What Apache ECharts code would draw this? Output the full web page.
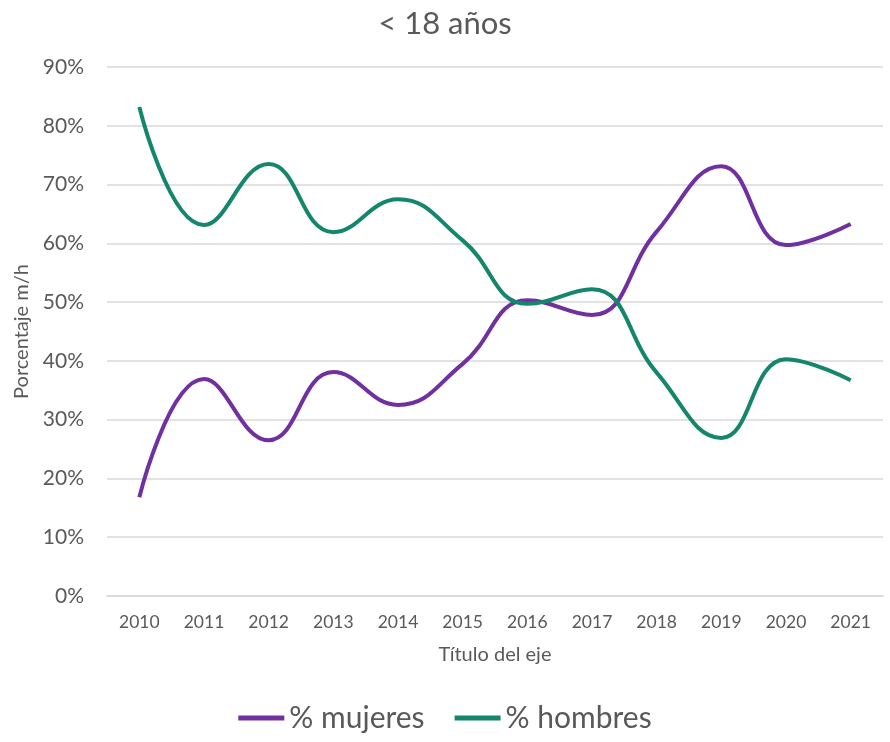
<!DOCTYPE html>
<html>
<head>
<meta charset="utf-8">
<script src="https://cdn.jsdelivr.net/npm/echarts@6/dist/echarts.min.js"></script>
<style>
  html, body { margin: 0; padding: 0; background: #fff; }
  #chart { width: 890px; height: 742px; }
</style>
</head>
<body>
<div id="chart"></div>
<script>
const years = ['2010', '2011', '2012', '2013', '2014', '2015', '2016', '2017', '2018', '2019', '2020', '2021']
const mujeres = [16.8, 36.9, 26.5, 38.1, 32.5, 39.5, 50.3, 47.8, 62, 73.1, 59.7, 63.3]
const hombres = [83.2, 63.1, 73.5, 61.9, 67.5, 60.5, 49.7, 52.2, 38, 26.9, 40.3, 36.7]

const textColor = '#595959'
const fontFamily = 'Lato, "Open Sans", sans-serif'

const chart = echarts.init(document.getElementById('chart'))

const option = {
  backgroundColor: '#fff',
  textStyle: { fontFamily },
  title: {
    text: '< 18 años',
    left: 'center',
    top: 3,
    textStyle: { color: textColor, fontSize: 31, fontWeight: 'normal', fontFamily }
  },
  legend: {
    bottom: 4,
    left: 'center',
    icon: 'rect',
    itemWidth: 46,
    itemHeight: 5,
    itemGap: 30,
    textStyle: { color: textColor, fontSize: 30, fontFamily }
  },
  grid: { left: 107, right: 7, top: 67, bottom: 146 },
  xAxis: {
    type: 'category',
    data: years,
    boundaryGap: true,
    name: 'Título del eje',
    nameLocation: 'middle',
    nameGap: 49,
    nameTextStyle: { color: textColor, fontSize: 20, fontFamily },
    axisLine: { lineStyle: { color: '#d9d9d9', width: 1.5 } },
    axisTick: { show: false },
    axisLabel: { color: textColor, fontSize: 17.5, margin: 17, fontFamily }
  },
  yAxis: {
    type: 'value',
    min: 0,
    max: 90,
    interval: 10,
    name: 'Porcentaje m/h',
    nameLocation: 'middle',
    nameGap: 75,
    nameTextStyle: { color: textColor, fontSize: 20, fontFamily },
    axisLine: { show: false },
    axisTick: { show: false },
    axisLabel: { color: textColor, fontSize: 21, margin: 23, formatter: '{value}%', fontFamily },
    splitLine: { lineStyle: { color: '#d9d9d9', width: 1.5 } }
  },
  series: [
    {
      name: '% mujeres',
      type: 'line',
      data: mujeres,
      smooth: 0.45,
      symbol: 'none',
      lineStyle: { color: '#7030a0', width: 4 },
      itemStyle: { color: '#7030a0' }
    },
    {
      name: '% hombres',
      type: 'line',
      data: hombres,
      smooth: 0.45,
      symbol: 'none',
      lineStyle: { color: '#14866c', width: 4 },
      itemStyle: { color: '#14866c' }
    }
  ]
}

chart.setOption(option)
</script>
</body>
</html>
